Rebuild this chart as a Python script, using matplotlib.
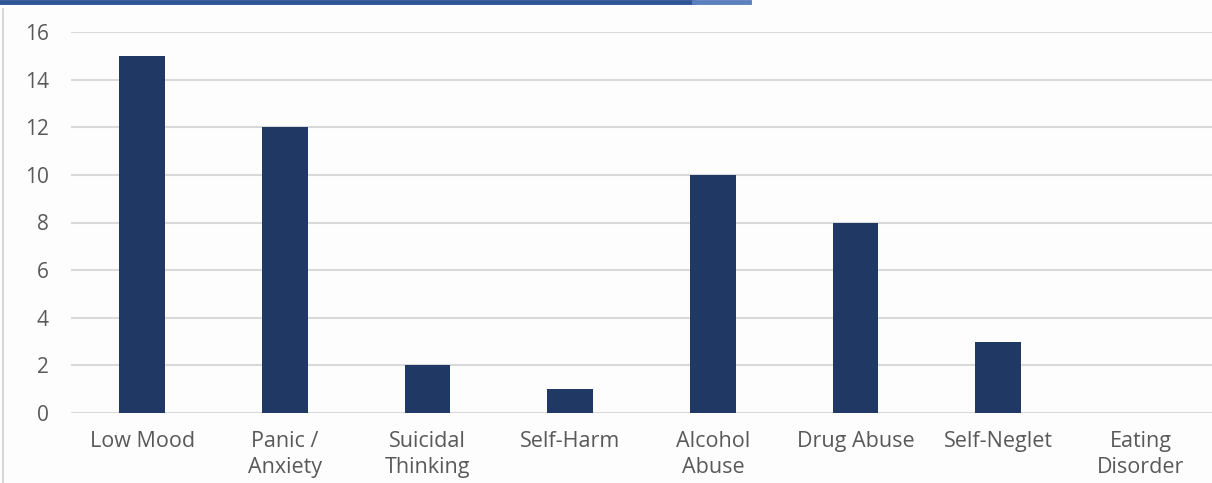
import matplotlib
matplotlib.use("Agg")
import matplotlib.pyplot as plt
from matplotlib.lines import Line2D

categories = ["Low Mood", "Panic /\nAnxiety", "Suicidal\nThinking", "Self-Harm",
              "Alcohol\nAbuse", "Drug Abuse", "Self-Neglet", "Eating\nDisorder"]
counts = [15, 12, 2, 1, 10, 8, 3, 0]
y_ticks = [0, 2, 4, 6, 8, 10, 12, 14, 16]

plt.rcParams["font.family"] = ["Open Sans", "DejaVu Sans"]

W, H = 1212, 483
fig = plt.figure(figsize=(W / 100, H / 100), dpi=100, facecolor="#fdfdfd")
ax = fig.add_axes([71 / W, 1 - 413 / H, 1 - 71 / W, (413 - 32) / H])
ax.set_facecolor("#fdfdfd")

x = range(len(categories))
ax.bar(x, counts, width=0.32, color="#1f3864", zorder=3)

ax.set_xlim(-0.5, len(categories) - 0.5)
ax.set_ylim(0, 16)
ax.set_yticks(y_ticks)
ax.set_xticks(list(x))
ax.set_xticklabels(categories, fontsize=15.5, color="#595959", linespacing=1.3)
ax.tick_params(axis="y", labelsize=15, labelcolor="#595959", length=0, pad=16)
ax.tick_params(axis="x", length=0, pad=13)
ax.grid(axis="y", color="#d9d9d9", linewidth=1.5, zorder=0)
for s in ax.spines.values():
    s.set_visible(False)

# header rule and left frame line
fig.add_artist(Line2D([0, 694 / W], [1 - 2 / H] * 2, transform=fig.transFigure,
                      color="#2f5496", linewidth=3.5))
fig.add_artist(Line2D([694 / W, 749 / W], [1 - 2 / H] * 2, transform=fig.transFigure,
                      color="#5b80bd", linewidth=3.5))
fig.add_artist(Line2D([3 / W, 3 / W], [0, 1 - 9 / H], transform=fig.transFigure,
                      color="#d0d0d0", linewidth=1.2))

fig.savefig("out.png", dpi=100, facecolor=fig.get_facecolor())
